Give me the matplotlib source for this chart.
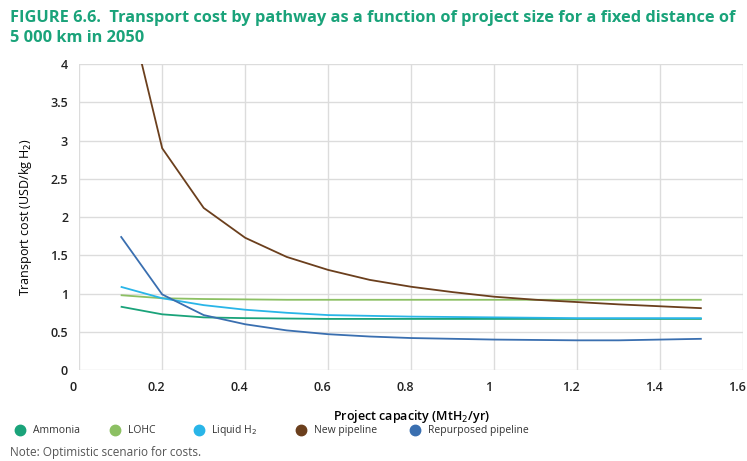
import numpy as np
import matplotlib
matplotlib.use("Agg")
import matplotlib.pyplot as plt
from matplotlib.lines import Line2D
from matplotlib.transforms import ScaledTranslation

plt.rcParams['font.family'] = ['Open Sans', 'DejaVu Sans']

capacity = [0.1, 0.2, 0.3, 0.4, 0.5, 0.6, 0.7, 0.8, 0.9, 1.0, 1.1, 1.2, 1.3, 1.4, 1.5]
ammonia = [0.83, 0.73, 0.69, 0.68, 0.675, 0.67, 0.67, 0.67, 0.67, 0.67, 0.67, 0.67, 0.67, 0.67, 0.67]
lohc = [0.98, 0.94, 0.93, 0.925, 0.92, 0.92, 0.92, 0.92, 0.92, 0.92, 0.92, 0.92, 0.92, 0.92, 0.92]
liquid_h2 = [1.09, 0.94, 0.85, 0.79, 0.75, 0.72, 0.71, 0.70, 0.695, 0.69, 0.685, 0.68, 0.68, 0.68, 0.68]
new_pipeline = [5.15, 2.90, 2.12, 1.73, 1.48, 1.31, 1.18, 1.09, 1.02, 0.96, 0.92, 0.89, 0.86, 0.835, 0.81]
repurposed = [1.75, 0.99, 0.72, 0.60, 0.52, 0.47, 0.44, 0.42, 0.41, 0.40, 0.395, 0.39, 0.39, 0.40, 0.41]

names = ["Ammonia", "LOHC", "Liquid H$_2$", "New pipeline", "Repurposed pipeline"]
colors = ["#1aa37a", "#8cc063", "#29b5e8", "#6b3f1d", "#3a6fb0"]
xticks = [0, 0.2, 0.4, 0.6, 0.8, 1, 1.2, 1.4, 1.6]
yticks = [0, 0.5, 1, 1.5, 2, 2.5, 3, 3.5, 4]

fig = plt.figure(figsize=(7.47, 4.61), dpi=100)
ax = fig.add_axes([0.106, 0.197, 0.889, 0.664])

for vals, c in zip([ammonia, lohc, liquid_h2, new_pipeline, repurposed], colors):
    ax.plot(capacity, vals, color=c, lw=1.3, solid_capstyle='butt')

ax.set_xlim(0, 1.6)
ax.set_ylim(0, 4)
ax.set_xticks(xticks)
ax.set_xticklabels([f"{t:g}" for t in xticks])
ax.set_yticks(yticks)
ax.set_yticklabels([f"{t:g}" for t in yticks])
ax.grid(True, color="#dcdcdc", lw=1)
ax.set_axisbelow(True)
for s in ax.spines.values():
    s.set_visible(False)
ax.tick_params(length=0, labelsize=9, colors="#222222", pad=8)
for lab in ax.get_xticklabels() + ax.get_yticklabels():
    lab.set_fontweight('semibold')
off = ScaledTranslation(-6 / 100, 0, fig.dpi_scale_trans)
for lab in ax.get_xticklabels():
    lab.set_transform(lab.get_transform() + off)

ax.set_xlabel("Project capacity (MtH$_2$/yr)", fontsize=9, fontweight='semibold', labelpad=10)
ax.set_ylabel("Transport cost (USD/kg H$_2$)", fontsize=9, labelpad=12)

fig.text(0.013, 0.978, "FIGURE 6.6.  Transport cost by pathway as a function of project size for a fixed distance of\n5 000 km in 2050",
         color="#1aa37a", fontsize=11.8, fontweight='bold', va='top', ha='left', linespacing=1.3)

# legend drawn by hand so the item spacing follows the original
leg_x = [0.027, 0.154, 0.266, 0.403, 0.556]
leg_y = 0.067
for x0, name, c in zip(leg_x, names, colors):
    fig.add_artist(Line2D([x0], [leg_y], ls='', marker='o', ms=7.5, color=c, transform=fig.transFigure))
    fig.text(x0 + 0.017, leg_y, name, fontsize=7.5, color="#333333", va='center', ha='left')

fig.text(0.013, 0.019, "Note: Optimistic scenario for costs.", fontsize=8.5, color="#555555", ha='left', va='center')

fig.savefig("out.png", dpi=100)
